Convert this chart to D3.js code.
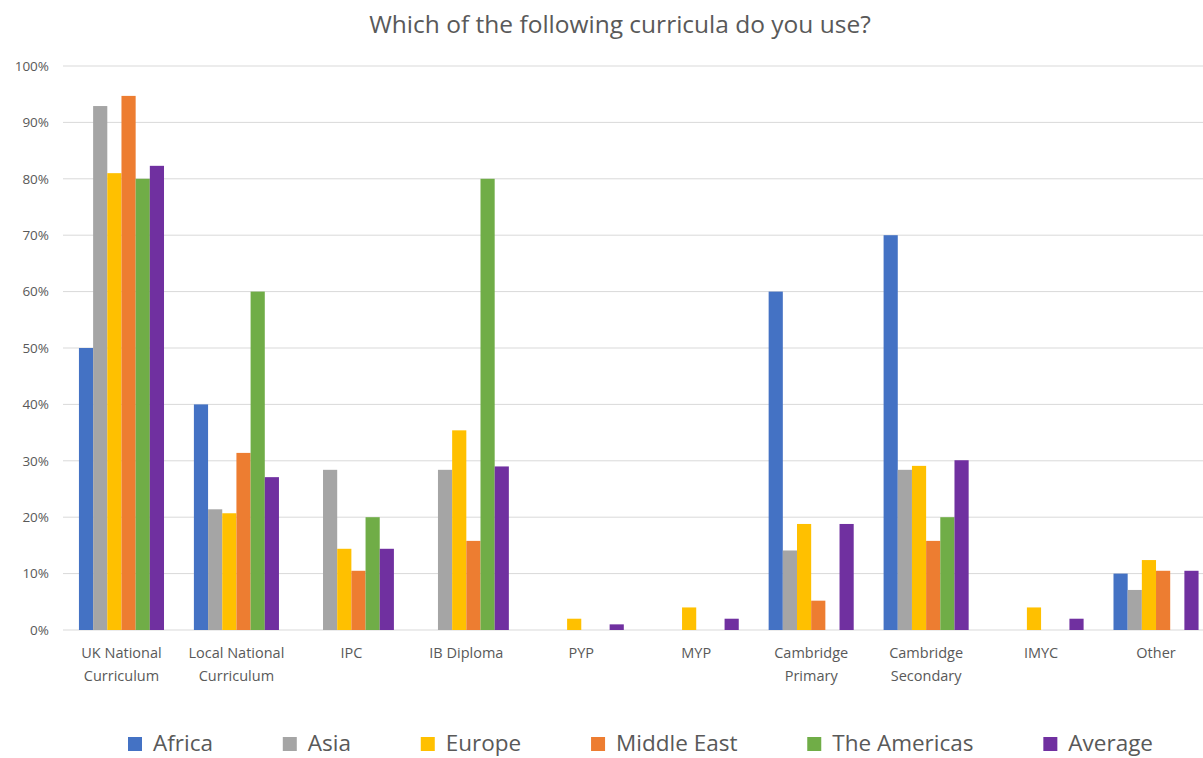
<!DOCTYPE html>
<html><head><meta charset="utf-8">
<script src="https://cdn.jsdelivr.net/npm/d3@7"></script>
<style>
html,body{margin:0;padding:0;background:#fff;overflow:hidden;}
text{font-family:"Open Sans",sans-serif;fill:#595959;}
</style></head>
<body><svg id="chart" width="1203" height="758"></svg>
<script>
const categories = [["UK National","Curriculum"],["Local National","Curriculum"],["IPC"],["IB Diploma"],["PYP"],["MYP"],["Cambridge","Primary"],["Cambridge","Secondary"],["IMYC"],["Other"]];
const seriesNames = ["Africa","Asia","Europe","Middle East","The Americas","Average"];
const colors = ["#4472C4","#A5A5A5","#FFC000","#ED7D31","#70AD47","#7030A0"];
const africa   = [50, 40, 0, 0, 0, 0, 60, 70, 0, 10];
const asia     = [92.9, 21.4, 28.4, 28.4, 0, 0, 14.1, 28.4, 0, 7.1];
const europe   = [81.0, 20.7, 14.4, 35.4, 2.0, 4.0, 18.8, 29.1, 4.0, 12.4];
const middleEast = [94.7, 31.4, 10.5, 15.8, 0, 0, 5.2, 15.8, 0, 10.5];
const americas = [80, 60, 20, 80, 0, 0, 0, 20, 0, 0];
const average  = [82.3, 27.1, 14.4, 29.0, 1.0, 2.0, 18.8, 30.1, 2.0, 10.5];
const yTicks = [0,10,20,30,40,50,60,70,80,90,100];
const title = "Which of the following curricula do you use?";

const seriesValues = [africa, asia, europe, middleEast, americas, average];
const svg = d3.select("#chart");
const catKeys = categories.map(c => c.join(" "));

const x0 = d3.scaleBand().domain(catKeys).range([64, 1213.5]).paddingInner(0.26).paddingOuter(0.13);
const x1 = d3.scaleBand().domain(seriesNames).range([0, x0.bandwidth()]);
const y = d3.scaleLinear().domain([0, 100]).range([630, 66]);

svg.append("text").attr("x", 620).attr("y", 33).attr("text-anchor","middle")
  .style("font-size","24.5px").text(title);

// gridlines
svg.append("g").selectAll("line").data(yTicks).join("line")
  .attr("x1", 63).attr("x2", 1203).attr("y1", d => y(d)).attr("y2", d => y(d))
  .attr("stroke", "#d9d9d9").attr("stroke-width", 1);

// y axis labels
const yAxis = d3.axisLeft(y).tickValues(yTicks).tickFormat(d => d + "%").tickSize(0).tickPadding(14);
const gy = svg.append("g").attr("transform","translate(63,0)").call(yAxis);
gy.select(".domain").remove();
gy.selectAll("text").style("font-size","13.5px").style("fill","#595959").style("font-family","'Open Sans',sans-serif");

// bars
const groups = svg.append("g").selectAll("g").data(categories).join("g")
  .attr("transform", (d) => `translate(${x0(d.join(" "))},0)`);
groups.selectAll("rect").data((d, i) => seriesNames.map((s, j) => ({s, v: seriesValues[j][i], c: colors[j]})))
  .join("rect")
  .attr("x", d => x1(d.s)).attr("width", x1.bandwidth())
  .attr("y", d => y(d.v)).attr("height", d => y(0) - y(d.v))
  .attr("fill", d => d.c);

// x labels
const xl = svg.append("g").selectAll("text").data(categories).join("text")
  .attr("text-anchor","middle").style("font-size","14.5px")
  .attr("x", d => x0(d.join(" ")) + x0.bandwidth()/2).attr("y", 658);
xl.selectAll("tspan").data(d => d).join("tspan")
  .attr("x", function(){ return this.parentNode.getAttribute("x"); })
  .attr("dy", (d, i) => i === 0 ? 0 : 23).text(d => d);

// legend
const lg = svg.append("g");
const items = lg.selectAll("g").data(seriesNames).join("g");
items.append("rect").attr("width", 14).attr("height", 14).attr("y", 737).attr("fill", (d,i) => colors[i]);
items.append("text").attr("x", 25).attr("y", 751).style("font-size","22.5px").text(d => d);
let widths = [];
items.each(function(){ widths.push(this.getBBox().width); });
let cx = 128;
const sc = (1153 - 128 - d3.sum(widths)) / (widths.length - 1);
items.attr("transform", (d, i) => { const t = `translate(${cx},0)`; cx += widths[i] + sc; return t; });
</script></body></html>
